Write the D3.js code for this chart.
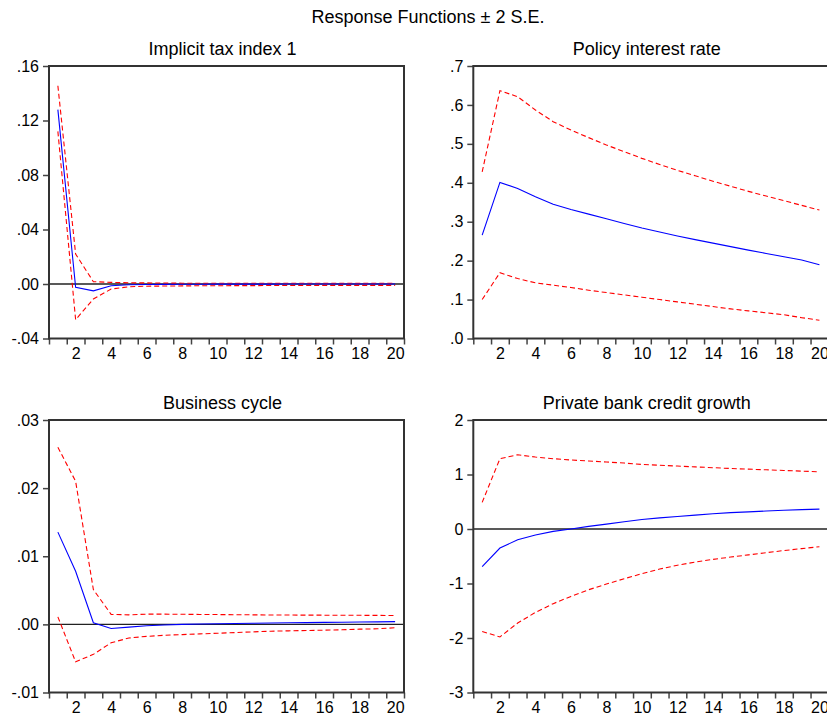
<!DOCTYPE html>
<html lang="en">
<head>
    <meta charset="UTF-8">
    <title>Response Functions ± 2 S.E.</title>
    <script src="https://d3js.org/d3.v7.min.js"></script>
    <style>
        body {
            margin: 0;
            background: #fff;
            overflow: hidden;
        }
        svg {
            font-family: Arial, "Liberation Sans", sans-serif;
        }
        .ptitle { font-size: 18px; fill: #000; }
        .tick-label { font-size: 16px; fill: #000; }
    </style>
</head>
<body>
<script>
    // periods 1..20
    const periods = d3.range(1, 21);
    const xTickLabels = [2, 4, 6, 8, 10, 12, 14, 16, 18, 20];

    const panelTitles = ["Implicit tax index 1", "Policy interest rate", "Business cycle", "Private bank credit growth"];

    // Implicit tax index 1
    const taxResp  = [0.128, -0.0025, -0.005, -0.0013, -0.0006, -0.0004, -0.0003, -0.0002, -0.0002, -0.0001,
                      -0.0001, -0.0001, -0.0001, 0, 0, 0, 0, 0, 0, 0];
    const taxUpper = [0.1455, 0.022, 0.0017, 0.0012, 0.0009, 0.0008, 0.0007, 0.0006, 0.0006, 0.0005,
                      0.0005, 0.0005, 0.0005, 0.0005, 0.0005, 0.0005, 0.0005, 0.0005, 0.0005, 0.0005];
    const taxLower = [0.112, -0.0262, -0.011, -0.0037, -0.002, -0.0016, -0.0015, -0.0014, -0.0013, -0.0013,
                      -0.0012, -0.0012, -0.0011, -0.0011, -0.0011, -0.001, -0.001, -0.001, -0.001, -0.001];

    // Policy interest rate
    const rateResp  = [0.2655, 0.401, 0.3856, 0.364, 0.345, 0.3316, 0.3195, 0.3075, 0.2956, 0.284,
                       0.2735, 0.2635, 0.254, 0.245, 0.236, 0.227, 0.2185, 0.21, 0.2015, 0.1895];
    const rateUpper = [0.428, 0.6366, 0.621, 0.587, 0.557, 0.5355, 0.516, 0.497, 0.48, 0.4627,
                       0.447, 0.432, 0.418, 0.404, 0.391, 0.378, 0.366, 0.354, 0.342, 0.33];
    const rateLower = [0.1, 0.169, 0.154, 0.143, 0.137, 0.131, 0.124, 0.118, 0.112, 0.106,
                       0.1, 0.094, 0.088, 0.082, 0.076, 0.071, 0.066, 0.061, 0.0535, 0.047];

    // Business cycle
    const cycResp  = [0.01354, 0.0078, 0.00024, -0.0006, -0.0004, -0.0002, -0.0001, 0, 0.00005, 0.0001,
                      0.00013, 0.00016, 0.0002, 0.00023, 0.00026, 0.0003, 0.00032, 0.00035, 0.00037, 0.0004];
    const cycUpper = [0.026, 0.021, 0.0051, 0.00147, 0.0014, 0.0015, 0.0015, 0.00148, 0.00146, 0.00144,
                      0.00142, 0.0014, 0.00138, 0.00137, 0.00136, 0.00135, 0.00134, 0.00133, 0.00132, 0.0013];
    const cycLower = [0.0011, -0.0055, -0.0044, -0.0027, -0.002, -0.00176, -0.0016, -0.0015, -0.0014, -0.0013,
                      -0.0012, -0.0011, -0.001, -0.00095, -0.0009, -0.00085, -0.0008, -0.0007, -0.00065, -0.0005];

    // Private bank credit growth
    const credResp  = [-0.69, -0.35, -0.196, -0.11, -0.044, 0, 0.048, 0.09, 0.134, 0.175,
                       0.205, 0.23, 0.255, 0.28, 0.3, 0.315, 0.33, 0.343, 0.355, 0.365];
    const credUpper = [0.488, 1.29, 1.363, 1.32, 1.29, 1.266, 1.248, 1.229, 1.21, 1.185,
                       1.17, 1.155, 1.14, 1.125, 1.11, 1.098, 1.086, 1.074, 1.062, 1.05];
    const credLower = [-1.88, -1.98, -1.725, -1.53, -1.37, -1.237, -1.114, -1.01, -0.912, -0.82,
                       -0.735, -0.665, -0.607, -0.557, -0.515, -0.475, -0.435, -0.395, -0.36, -0.325];

    // y axis tick values and their labels
    const taxTicks  = [[-0.04, "-.04"], [0, ".00"], [0.04, ".04"], [0.08, ".08"], [0.12, ".12"], [0.16, ".16"]];
    const rateTicks = [[0, ".0"], [0.1, ".1"], [0.2, ".2"], [0.3, ".3"], [0.4, ".4"], [0.5, ".5"], [0.6, ".6"], [0.7, ".7"]];
    const cycTicks  = [[-0.01, "-.01"], [0, ".00"], [0.01, ".01"], [0.02, ".02"], [0.03, ".03"]];
    const credTicks = [[-3, "-3"], [-2, "-2"], [-1, "-1"], [0, "0"], [1, "1"], [2, "2"]];

    const width = 827, height = 723;

    const svg = d3.select("body").append("svg")
        .attr("width", width)
        .attr("height", height);

    svg.append("text")
        .attr("class", "ptitle")
        .attr("x", 428)
        .attr("y", 23)
        .attr("text-anchor", "middle")
        .text("Response Functions \u00b1 2 S.E.");

    const panels = [
        {title: panelTitles[0], resp: taxResp,  up: taxUpper,  lo: taxLower,  ticks: taxTicks,  left: 49,    top: 66,  showZero: true},
        {title: panelTitles[1], resp: rateResp, up: rateUpper, lo: rateLower, ticks: rateTicks, left: 473.3, top: 66,  showZero: false},
        {title: panelTitles[2], resp: cycResp,  up: cycUpper,  lo: cycLower,  ticks: cycTicks,  left: 49,    top: 420, showZero: true},
        {title: panelTitles[3], resp: credResp, up: credUpper, lo: credLower, ticks: credTicks, left: 473.3, top: 420, showZero: true}
    ];
    const pw = 355, ph = 272.5;

    panels.forEach(p => {
        const g = svg.append("g").attr("transform", `translate(${p.left},${p.top})`);

        const x = d3.scaleLinear().domain([0.5, 20.5]).range([0, pw]);
        const yVals = p.ticks.map(t => t[0]);
        const y = d3.scaleLinear().domain(d3.extent(yVals)).range([ph, 0]);

        g.append("text")
            .attr("class", "ptitle")
            .attr("x", pw / 2 - 4)
            .attr("y", -11)
            .attr("text-anchor", "middle")
            .text(p.title);

        // y axis
        const yAxis = d3.axisLeft(y)
            .tickValues(yVals)
            .tickSize(6)
            .tickPadding(4)
            .tickFormat((d, i) => p.ticks[i][1]);
        const ya = g.append("g").call(yAxis);
        ya.select(".domain").remove();
        ya.selectAll("line").attr("stroke", "#444").attr("stroke-width", 1.5);
        ya.selectAll("text").attr("class", "tick-label").attr("font-family", null).attr("font-size", null);

        // x axis: ticks between periods, labels at even periods
        const xa = g.append("g").attr("transform", `translate(0,${ph})`);
        xa.call(d3.axisBottom(x)
            .tickValues(d3.range(0.5, 21, 1))
            .tickSize(6)
            .tickFormat(""));
        xa.select(".domain").remove();
        xa.selectAll("line").attr("stroke", "#444").attr("stroke-width", 1.5);
        xa.call(g2 => g2.append("g")
            .call(d3.axisBottom(x).tickValues(xTickLabels).tickSize(0).tickPadding(9))
            .call(s => s.select(".domain").remove())
            .selectAll("text").attr("class", "tick-label").attr("font-family", null).attr("font-size", null));

        if (p.showZero) {
            g.append("line")
                .attr("x1", 0).attr("x2", pw)
                .attr("y1", y(0)).attr("y2", y(0))
                .attr("stroke", "#222")
                .attr("stroke-width", 1.3);
        }

        const line = d3.line()
            .x((d, i) => x(periods[i]))
            .y(d => y(d));

        [p.up, p.lo].forEach(s => {
            g.append("path")
                .datum(s)
                .attr("fill", "none")
                .attr("stroke", "#ff0000")
                .attr("stroke-width", 1.1)
                .attr("stroke-dasharray", "5,3")
                .attr("d", line);
        });

        g.append("path")
            .datum(p.resp)
            .attr("fill", "none")
            .attr("stroke", "#0000ff")
            .attr("stroke-width", 1.1)
            .attr("d", line);

        // frame
        g.append("rect")
            .attr("width", pw).attr("height", ph)
            .attr("fill", "none")
            .attr("stroke", "#333")
            .attr("stroke-width", 2);
    });
</script>
</body>
</html>
